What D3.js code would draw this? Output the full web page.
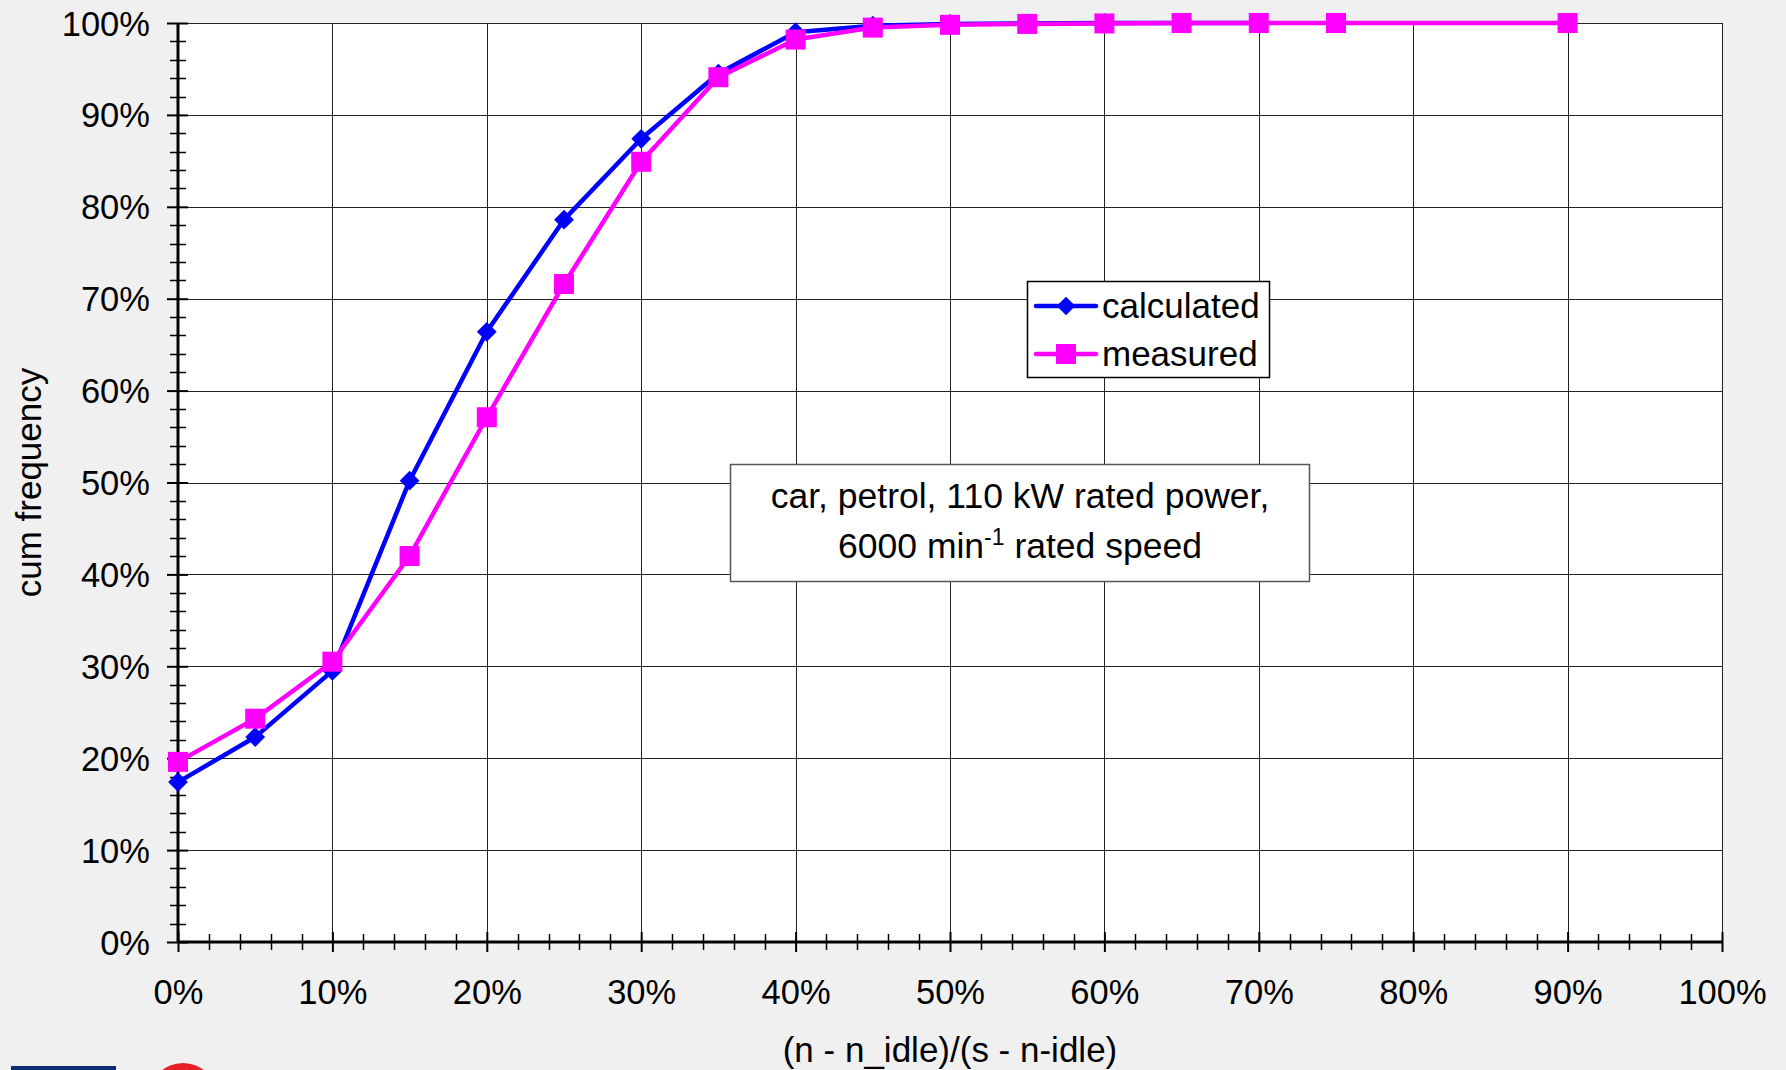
<!DOCTYPE html>
<html>
<head>
<meta charset="utf-8">
<script src="https://cdn.jsdelivr.net/npm/d3@7"></script>
<style>
  html, body { margin: 0; padding: 0; background: #f0f0f0; }
  svg { display: block; font-family: Arial, "Liberation Sans", sans-serif; }
</style>
</head>
<body>
<script>
// data (percent)
var calcX = [0, 5, 10, 15, 20, 25, 30, 35, 40, 45, 50, 55, 60, 65, 70];
var calculated = [17.4, 22.3, 29.5, 50.2, 66.4, 78.6, 87.4, 94.5, 99.0, 99.7, 99.9, 99.95, 100, 100, 100];
var measX = [0, 5, 10, 15, 20, 25, 30, 35, 40, 45, 50, 55, 60, 65, 70, 75, 90];
var measured = [19.6, 24.3, 30.5, 42.0, 57.1, 71.6, 84.9, 94.1, 98.2, 99.5, 99.8, 99.9, 99.95, 100, 100, 100, 100];
var xTicks = [0, 10, 20, 30, 40, 50, 60, 70, 80, 90, 100];
var yTicks = [0, 10, 20, 30, 40, 50, 60, 70, 80, 90, 100];
var seriesNames = ["calculated", "measured"];

var W = 1786, H = 1070;
var pLeft = 178, pRight = 1722, pTop = 23, pBottom = 942;
var fs = "34.5px";

var svg = d3.select("body").append("svg")
    .attr("width", W)
    .attr("height", H);

var x = d3.scaleLinear().domain([0, 100]).range([pLeft, pRight]);
var y = d3.scaleLinear().domain([0, 100]).range([pBottom, pTop]);
var pct = function (d) { return d + "%"; };

// plot area
svg.append("rect")
    .attr("x", pLeft).attr("y", pTop)
    .attr("width", pRight - pLeft).attr("height", pBottom - pTop)
    .attr("fill", "#fff");

// grid
svg.append("g").selectAll("line")
    .data(xTicks.slice(1))
    .enter().append("line")
    .attr("x1", function (d) { return Math.round(x(d)) + 0.5; })
    .attr("x2", function (d) { return Math.round(x(d)) + 0.5; })
    .attr("y1", pTop).attr("y2", pBottom)
    .attr("stroke", "#222").attr("stroke-width", 1);

svg.append("g").selectAll("line")
    .data(yTicks.slice(1))
    .enter().append("line")
    .attr("y1", function (d) { return Math.round(y(d)) + 0.5; })
    .attr("y2", function (d) { return Math.round(y(d)) + 0.5; })
    .attr("x1", pLeft).attr("x2", pRight)
    .attr("stroke", "#222").attr("stroke-width", 1);

// minor ticks every 2%
var minor = d3.range(0, 101, 2).filter(function (d) { return d % 10 !== 0; });

svg.append("g").selectAll("line")
    .data(minor).enter().append("line")
    .attr("x1", pLeft - 8).attr("x2", pLeft + 8)
    .attr("y1", function (d) { return Math.round(y(d)) + 0.5; })
    .attr("y2", function (d) { return Math.round(y(d)) + 0.5; })
    .attr("stroke", "#000").attr("stroke-width", 1.5);

svg.append("g").selectAll("line")
    .data(minor).enter().append("line")
    .attr("y1", pBottom - 8).attr("y2", pBottom + 8)
    .attr("x1", function (d) { return Math.round(x(d)) + 0.5; })
    .attr("x2", function (d) { return Math.round(x(d)) + 0.5; })
    .attr("stroke", "#000").attr("stroke-width", 1.5);

// axes
var yAxis = svg.append("g")
    .attr("transform", "translate(" + pLeft + ",0)")
    .call(d3.axisLeft(y).tickValues(yTicks).tickFormat(pct).tickSize(11).tickPadding(17));
var xAxis = svg.append("g")
    .attr("transform", "translate(0," + pBottom + ")")
    .call(d3.axisBottom(x).tickValues(xTicks).tickFormat(pct).tickSize(10).tickPadding(28));

yAxis.selectAll(".tick line").attr("x1", 10).attr("stroke-width", 2);
xAxis.selectAll(".tick line").attr("y1", -10).attr("stroke-width", 2);
yAxis.select(".domain").attr("stroke-width", 3).attr("d", "M0," + pBottom + "V" + pTop);
xAxis.select(".domain").attr("stroke-width", 3).attr("d", "M" + pLeft + ",0H" + pRight);
svg.selectAll(".tick text")
    .attr("font-size", fs)
    .attr("font-family", "Arial, 'Liberation Sans', sans-serif")
    .attr("fill", "#000");
yAxis.selectAll(".tick text").attr("dy", "0.35em");

// axis titles
svg.append("text")
    .attr("transform", "translate(41," + (pTop + pBottom) / 2 + ") rotate(-90)")
    .attr("text-anchor", "middle")
    .attr("font-size", "35px")
    .text("cum frequency");

svg.append("text")
    .attr("x", (pLeft + pRight) / 2).attr("y", 1062)
    .attr("text-anchor", "middle")
    .attr("font-size", "35px")
    .text("(n - n_idle)/(s - n-idle)");

// series
var line = d3.line()
    .x(function (d) { return x(d[0]); })
    .y(function (d) { return y(d[1]); });

var calcPts = d3.zip(calcX, calculated);
var measPts = d3.zip(measX, measured);

svg.append("path").datum(calcPts)
    .attr("d", line).attr("fill", "none")
    .attr("stroke", "#0000ff").attr("stroke-width", 4.5).attr("stroke-linejoin", "round");
svg.append("g").selectAll("path")
    .data(calcPts).enter().append("path")
    .attr("d", d3.symbol().type(d3.symbolDiamond2).size(250))
    .attr("transform", function (d) { return "translate(" + x(d[0]) + "," + y(d[1]) + ")"; })
    .attr("fill", "#0000ff");

svg.append("path").datum(measPts)
    .attr("d", line).attr("fill", "none")
    .attr("stroke", "#ff00ff").attr("stroke-width", 4.5).attr("stroke-linejoin", "round");
svg.append("g").selectAll("rect")
    .data(measPts).enter().append("rect")
    .attr("x", function (d) { return x(d[0]) - 10; })
    .attr("y", function (d) { return y(d[1]) - 10; })
    .attr("width", 20).attr("height", 20)
    .attr("fill", "#ff00ff");

// legend
var lg = svg.append("g");
lg.append("rect")
    .attr("x", 1027.5).attr("y", 281.5).attr("width", 242).attr("height", 96)
    .attr("fill", "#fff").attr("stroke", "#000").attr("stroke-width", 1.5);
var rows = [
    {name: seriesNames[0], color: "#0000ff", y: 306},
    {name: seriesNames[1], color: "#ff00ff", y: 354}
];
rows.forEach(function (r, i) {
    lg.append("line")
        .attr("x1", 1036).attr("x2", 1096).attr("y1", r.y).attr("y2", r.y)
        .attr("stroke", r.color).attr("stroke-width", 4.5).attr("stroke-linecap", "round");
    if (i === 0) {
        lg.append("path")
            .attr("d", d3.symbol().type(d3.symbolDiamond2).size(220))
            .attr("transform", "translate(1066," + r.y + ")")
            .attr("fill", r.color);
    } else {
        lg.append("rect")
            .attr("x", 1066 - 10).attr("y", r.y - 10).attr("width", 20).attr("height", 20)
            .attr("fill", r.color);
    }
    lg.append("text")
        .attr("x", 1102).attr("y", r.y + 12)
        .attr("font-size", "35px")
        .text(r.name);
});

// annotation
var note = svg.append("g");
note.append("rect")
    .attr("x", 730.5).attr("y", 464.5).attr("width", 579).attr("height", 117)
    .attr("fill", "#fff").attr("stroke", "#555").attr("stroke-width", 1.5);
note.append("text")
    .attr("x", 1020).attr("y", 508)
    .attr("text-anchor", "middle").attr("font-size", "35.5px")
    .text("car, petrol, 110 kW rated power,");
var t2 = note.append("text")
    .attr("x", 1020).attr("y", 558)
    .attr("text-anchor", "middle").attr("font-size", "35.5px");
t2.append("tspan").text("6000 min");
t2.append("tspan").attr("dy", -13).attr("font-size", "23px").text("-1");
t2.append("tspan").attr("dy", 13).text(" rated speed");

// cut-off logos at the bottom edge
svg.append("rect")
    .attr("x", 11).attr("y", 1066).attr("width", 105).attr("height", 10)
    .attr("fill", "#0a2d73");
svg.append("circle")
    .attr("cx", 183).attr("cy", 1097).attr("r", 34)
    .attr("fill", "#e8202a");
</script>
</body>
</html>
